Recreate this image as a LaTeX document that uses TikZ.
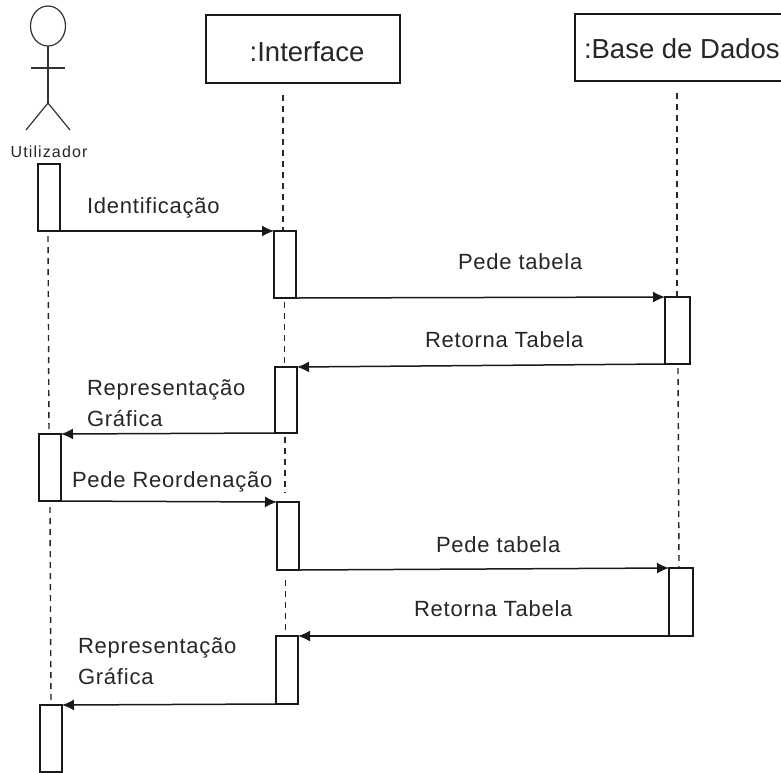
\documentclass[tikz,border=0pt]{standalone}
\usepackage{fontspec}
\setmainfont{Liberation Sans}
\newfontfamily\labfont[LetterSpace=3.5]{Liberation Sans}
\newfontfamily\utfont[LetterSpace=7]{Liberation Sans}
\usetikzlibrary{shapes.geometric,arrows.meta}
\tikzset{
  x=1pt,y=-1pt,
  every node/.style={inner sep=0pt,outer sep=0pt,text=black!85},
  obj/.style={draw=black!90,line width=1.5pt,rectangle,fill=white},
  act/.style={draw=black!90,line width=1.4pt,rectangle,fill=white,minimum width=22pt},
  msg/.style={draw=black!90,line width=1.5pt,-{Latex[length=12pt,width=11pt]}},
  life/.style={draw=black!85,line width=1.4pt,dash pattern=on 6pt off 5pt},
  limb/.style={draw=black!80,line width=1.2pt},
  lab/.style={font=\labfont\fontsize{22}{27}\selectfont,anchor=west},
  head/.style={font=\fontsize{27.5}{30}\selectfont}
}
\begin{document}
\begin{tikzpicture}
\useasboundingbox (0,0) rectangle (781,772);
% actor
\node[ellipse,draw=black!80,line width=1.2pt,minimum width=35pt,minimum height=40pt] (hd) at (48,26) {};
\coordinate (hip) at (48,103);
\coordinate (armL) at (31,68);
\coordinate (armR) at (65,68);
\coordinate (legL) at (26,130);
\coordinate (legR) at (70,130);
\draw[limb] (hd.south) -- (hip);
\draw[limb] (armL) -- (armR);
\draw[limb] (legL) -- (hip) -- (legR);
\node[font=\utfont\fontsize{16}{18}\selectfont] (ut) at (49,152) {Utilizador};
% objects
\node[obj,minimum width=194pt,minimum height=68pt] (if) at (303,49) {};
\node[head] (iflab) at (307,52) {:Interface};
\node[obj,minimum width=215pt,minimum height=67pt,anchor=north west] (bd) at (575,14) {};
\node[head,anchor=west] (bdlab) at (584,49) {:Base de Dados};
% activations
\node[act,minimum height=67pt] (a1) at (49,197.5) {};
\node[act,minimum height=67pt] (a2) at (285,264.5) {};
\node[act,minimum height=67pt,minimum width=25pt] (a3) at (677.5,330.5) {};
\node[act,minimum height=66pt] (a4) at (286,400) {};
\node[act,minimum height=67pt] (a5) at (50,467.5) {};
\node[act,minimum height=68pt] (a6) at (288,536) {};
\node[act,minimum height=68pt,minimum width=24pt] (a7) at (681,602) {};
\node[act,minimum height=68pt] (a8) at (287,670) {};
\node[act,minimum height=67pt] (a9) at (51,738.5) {};
% lifelines
\coordinate (t1) at (283,95);
\coordinate (b1) at (283,231);
\coordinate (t2) at (677,93);
\coordinate (b2) at (677,297);
\coordinate (u1) at (48,236);
\coordinate (u2) at (49,434);
\coordinate (u3) at (50,507);
\coordinate (u4) at (51,705);
\coordinate (i1) at (284.5,302);
\coordinate (i2) at (284.5,367);
\coordinate (i3) at (285,437);
\coordinate (i4) at (285,493);
\coordinate (i5) at (285.5,580);
\coordinate (i6) at (285.5,636);
\coordinate (d1) at (678,368);
\coordinate (d2) at (679,568);
\draw[life] (t1) -- (b1);
\draw[life] (t2) -- (b2);
\draw[life] (u1) -- (u2);
\draw[life] (u3) -- (u4);
\draw[life] (i1) -- (i2);
\draw[life] (i3) -- (i4);
\draw[life] (i5) -- (i6);
\draw[life] (d1) -- (d2);
% messages
\draw[msg] (a1.south east) -- (a2.north west);
\draw[msg] (a2.south east) -- (a3.north west);
\draw[msg] (a3.south west) -- (a4.north east);
\draw[msg] (a4.south west) -- (a5.north east);
\draw[msg] (a5.south east) -- (a6.north west);
\draw[msg] (a6.south east) -- (a7.north west);
\draw[msg] (a7.south west) -- (a8.north east);
\draw[msg] (a8.south west) -- (a9.north east);
% labels
\node[lab] (m1) at (87,208) {Identificação};
\node[lab] (m2) at (458,262) {Pede tabela};
\node[lab] (m3) at (425,340) {Retorna Tabela};
\node[lab] (m4) at (87,390) {Representação};
\node[lab] (m4b) at (87,418) {Gráfica};
\node[lab] (m5) at (72,482) {Pede Reordenação};
\node[lab] (m6) at (436,545) {Pede tabela};
\node[lab] (m7) at (414,609) {Retorna Tabela};
\node[lab] (m8) at (78,648) {Representação};
\node[lab] (m8b) at (78,676) {Gráfica};
\end{tikzpicture}
\end{document}
